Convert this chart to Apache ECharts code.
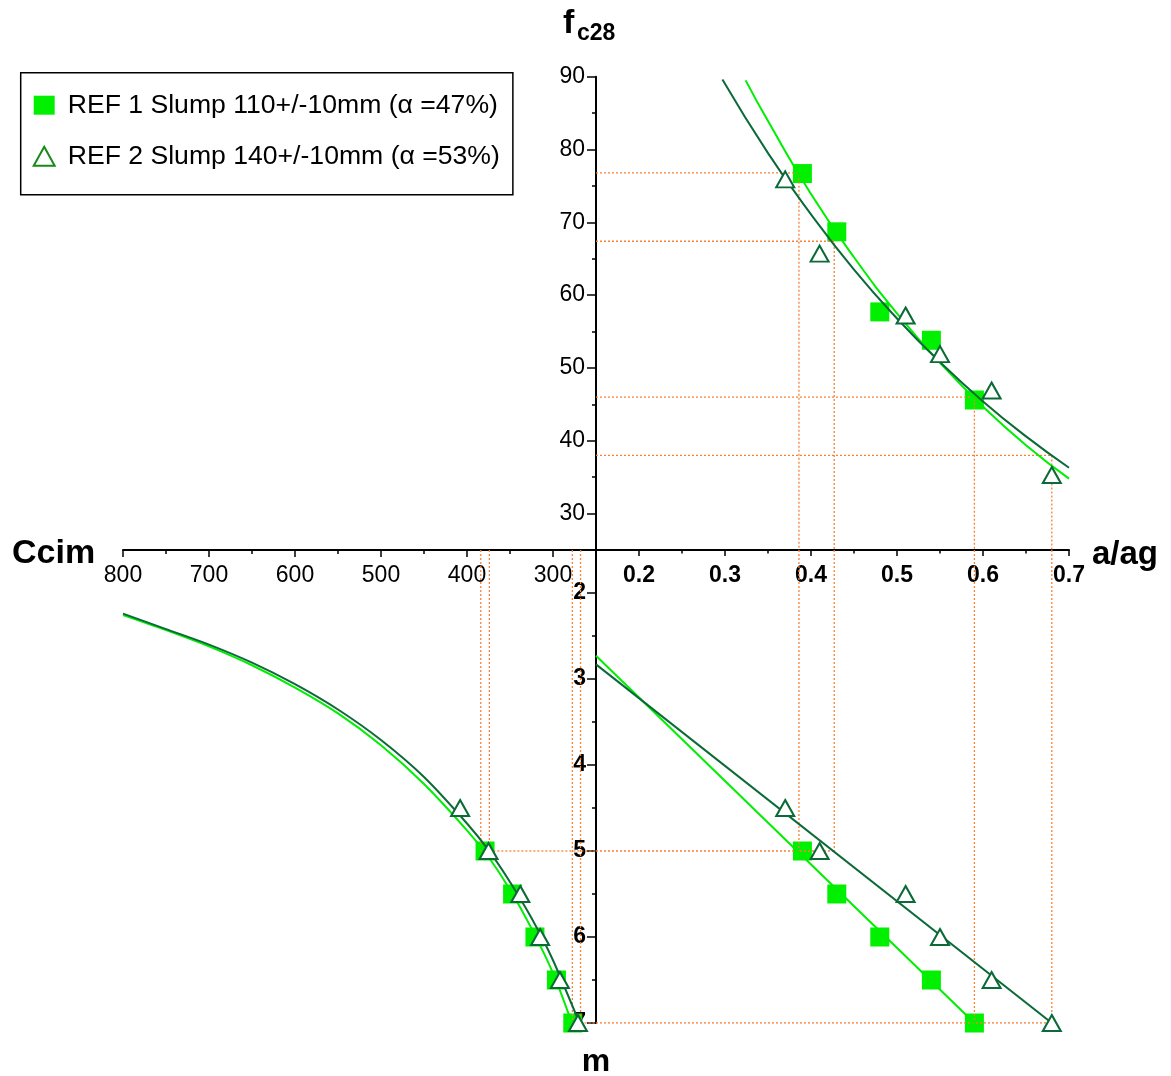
<!DOCTYPE html>
<html>
<head>
<meta charset="utf-8">
<script src="https://cdn.jsdelivr.net/npm/echarts@6/dist/echarts.min.js"></script>
<style>
html,body{margin:0;padding:0;background:#fff;}
#chart{width:1171px;height:1076px;}
</style>
</head>
<body>
<div id="chart"></div>
<script>
// ---------- DATA ----------
const ref1Name = 'REF 1 Slump 110+/-10mm (α =47%)';
const ref2Name = 'REF 2 Slump 140+/-10mm (α =53%)';

// measured points
const ref1AAg  = [0.39, 0.43, 0.48, 0.54, 0.59];
const ref1Fc   = [76.7, 68.7, 57.7, 53.8, 45.6];
const ref1M    = [5, 5.5, 6, 6.5, 7];
const ref1Ccim = [379, 347, 321, 296, 277];

const ref2AAg  = [0.37, 0.41, 0.51, 0.55, 0.61, 0.68];
const ref2Fc   = [75.9, 65.7, 57.2, 51.9, 46.9, 35.3];
const ref2M    = [4.5, 5, 5.5, 6, 6.5, 7];
const ref2Ccim = [408, 375, 338, 315, 292, 271];

// fitted curves
const fit1AAg = [0.324, 0.35, 0.40, 0.45, 0.50, 0.55, 0.60, 0.65, 0.70];
const fit1Fc  = [89.5, 83.9, 73.9, 65.2, 57.5, 50.7, 44.7, 39.4, 34.8];
const fit2AAg = [0.297, 0.35, 0.40, 0.45, 0.50, 0.55, 0.60, 0.65, 0.70];
const fit2Fc  = [89.6, 79.5, 71.1, 63.5, 56.8, 50.8, 45.4, 40.6, 36.3];

const fit1MLineAAg = [0.15, 0.59];
const fit1MLineM   = [2.73, 7];
const fit2MLineAAg = [0.15, 0.68];
const fit2MLineM   = [2.83, 7];

const fit1CcimC = [800, 750, 700, 650, 600, 550, 500, 450, 400, 375, 350, 325, 300, 278];
const fit1CcimM = [2.255, 2.43, 2.62, 2.84, 3.10, 3.40, 3.77, 4.22, 4.76, 5.07, 5.45, 5.90, 6.42, 7.0];
const fit2CcimC = [800, 750, 700, 650, 600, 550, 500, 450, 400, 375, 350, 325, 300, 270];
const fit2CcimM = [2.24, 2.42, 2.60, 2.81, 3.06, 3.355, 3.71, 4.14, 4.68, 4.99, 5.36, 5.78, 6.27, 6.98];

// reading guides (orange dotted)
const guideFc   = [76.8, 67.4, 46.0, 38.0];
const guideAAg  = [0.386, 0.427, 0.590, 0.680];
const guideM    = [5, 5, 7, 7];
const guideCcim = [384, 374, 277.5, 268];
const guideCcimM = [5, 5, 7, 7];

// axes
const aagMin = 0.15, aagMax = 0.7;
const fcMin = 25, fcMax = 90;
const mMin = 1.5, mMax = 7;
const ccimMin = 250, ccimMax = 800;
const aagTicks = [0.2, 0.3, 0.4, 0.5, 0.6, 0.7];
const aagMinor = [0.25, 0.35, 0.45, 0.55, 0.65];
const fcTicks = [30, 40, 50, 60, 70, 80, 90];
const fcMinor = [35, 45, 55, 65, 75, 85];
const mTicks = [2, 3, 4, 5, 6, 7];
const mMinor = [2.5, 3.5, 4.5, 5.5, 6.5];
const ccimTicks = [300, 400, 500, 600, 700, 800];
const ccimMinor = [350, 450, 550, 650, 750];

// ---------- STYLE ----------
const FONT = '"Liberation Sans", Arial, sans-serif';
const LIGHT = '#00ee00';
const SQUARE = '#00f000';
const DARK = '#0b6a37';
const GUIDE = '#f5823a';
const TICKFS = 23;

const zip = (a, b) => a.map((v, i) => [v, b[i]]);

function mainAxisCommon() {
  return { type: 'value', splitLine: { show: false },
    axisLine: { show: true, onZero: false, lineStyle: { color: '#000', width: 2 } } };
}
function minorAxis(gi, min, max, vals, len, extra) {
  return Object.assign({ type: 'value', gridIndex: gi, min: min, max: max,
    axisLine: { show: false }, splitLine: { show: false },
    axisLabel: { show: false },
    axisTick: { show: true, length: len, customValues: vals, lineStyle: { color: '#000', width: 1.5 } } }, extra || {});
}

const xAxes = [
  Object.assign(mainAxisCommon(), { gridIndex: 0, min: aagMin, max: aagMax, position: 'bottom',
    axisTick: { show: true, length: 6, customValues: aagTicks, lineStyle: { color: '#000', width: 1.5 } },
    axisLabel: { customValues: aagTicks, margin: 14, fontSize: TICKFS, fontWeight: 'bold', color: '#000', fontFamily: FONT } }),
  minorAxis(0, aagMin, aagMax, aagMinor, 3.5, { position: 'bottom' }),
  { type: 'value', gridIndex: 1, min: aagMin, max: aagMax, show: false },
  Object.assign(mainAxisCommon(), { gridIndex: 2, min: ccimMin, max: ccimMax, inverse: true, position: 'top',
    axisTick: { show: true, inside: true, length: 7, customValues: ccimTicks, lineStyle: { color: '#000', width: 1.5 } },
    axisLabel: { inside: true, customValues: ccimTicks, margin: 14, fontSize: TICKFS, color: '#000', fontFamily: FONT } }),
  minorAxis(2, ccimMin, ccimMax, ccimMinor, 4, { inverse: true, position: 'top', axisTick: { show: true, inside: true, length: 4, customValues: ccimMinor, lineStyle: { color: '#000', width: 1.5 } } })
];

const yAxes = [
  Object.assign(mainAxisCommon(), { gridIndex: 0, min: fcMin, max: fcMax, position: 'left',
    axisTick: { show: true, length: 9, customValues: fcTicks, lineStyle: { color: '#000', width: 1.5 } },
    axisLabel: { customValues: fcTicks, margin: 11, fontSize: TICKFS, color: '#000', fontFamily: FONT } }),
  minorAxis(0, fcMin, fcMax, fcMinor, 4, { position: 'left' }),
  Object.assign(mainAxisCommon(), { gridIndex: 1, min: mMin, max: mMax, inverse: true, position: 'left',
    axisTick: { show: true, length: 9, customValues: mTicks, lineStyle: { color: '#000', width: 1.5 } },
    axisLabel: { customValues: mTicks, margin: 10, fontSize: TICKFS, fontWeight: 'bold', color: '#000', fontFamily: FONT } }),
  minorAxis(1, mMin, mMax, mMinor, 4, { inverse: true, position: 'left' }),
  { type: 'value', gridIndex: 2, min: mMin, max: mMax, inverse: true, show: false }
];

const series = [];
function guide(xi, yi, data) {
  series.push({ type: 'line', xAxisIndex: xi, yAxisIndex: yi, data: data, symbol: 'none', silent: true,
    lineStyle: { color: GUIDE, width: 1.3, type: [2, 2] }, z: 3, animation: false });
}
function squares(xi, yi, data) {
  series.push({ name: ref1Name, type: 'scatter', xAxisIndex: xi, yAxisIndex: yi, data: data,
    symbol: 'rect', symbolSize: 19, itemStyle: { color: SQUARE, opacity: 1 }, z: 2, animation: false });
}
function triangles(xi, yi, data) {
  series.push({ name: ref2Name, type: 'scatter', xAxisIndex: xi, yAxisIndex: yi, data: data,
    symbol: 'triangle', symbolSize: [18, 16], itemStyle: { color: '#fff', opacity: 1, borderColor: DARK, borderWidth: 2 }, z: 6, animation: false });
}
function curve(xi, yi, data, color, z, smooth) {
  series.push({ type: 'line', xAxisIndex: xi, yAxisIndex: yi, data: data, symbol: 'none', silent: true,
    smooth: smooth, lineStyle: { color: color, width: 2 }, z: z, animation: false });
}

// markers (squares below)
squares(0, 0, zip(ref1AAg, ref1Fc));
squares(2, 2, zip(ref1AAg, ref1M));
squares(3, 4, zip(ref1Ccim, ref1M));

// guides
guideFc.forEach((fc, i) => {
  guide(0, 0, [[aagMin, fc], [guideAAg[i], fc], [guideAAg[i], fcMin]]);
  guide(2, 2, [[guideAAg[i], mMin], [guideAAg[i], guideM[i]]]);
});
[...new Set(guideM)].forEach(m => {
  const maxA = Math.max(...guideAAg.filter((a, i) => guideM[i] === m));
  guide(2, 2, [[aagMin, m], [maxA, m]]);
});
guideCcim.forEach((c, i) => {
  guide(3, 4, [[c, mMin], [c, guideCcimM[i]]]);
});
[...new Set(guideCcimM)].forEach(m => {
  const minC = Math.min(...guideCcim.filter((c, i) => guideCcimM[i] === m));
  guide(3, 4, [[minC, m], [ccimMin, m]]);
});

// curves
curve(0, 0, zip(fit1AAg, fit1Fc), LIGHT, 4, true);
curve(0, 0, zip(fit2AAg, fit2Fc), DARK, 5, true);
curve(2, 2, zip(fit1MLineAAg, fit1MLineM), LIGHT, 4, false);
curve(2, 2, zip(fit2MLineAAg, fit2MLineM), DARK, 5, false);
curve(3, 4, zip(fit1CcimC, fit1CcimM), LIGHT, 4, 0.3);
curve(3, 4, zip(fit2CcimC, fit2CcimM), DARK, 5, 0.3);

// triangles on top
triangles(0, 0, zip(ref2AAg, ref2Fc));
triangles(2, 2, zip(ref2AAg, ref2M));
triangles(3, 4, zip(ref2Ccim, ref2M));

const option = {
  backgroundColor: '#fff',
  animation: false,
  textStyle: { fontFamily: FONT },
  grid: [
    { left: 596, top: 76.7, width: 473, height: 473.3 },
    { left: 596, top: 550, width: 473, height: 473 },
    { left: 123, top: 550, width: 473, height: 473 }
  ],
  xAxis: xAxes,
  yAxis: yAxes,
  legend: {
    left: 20.7, top: 72.7, orient: 'vertical', selectedMode: false,
    data: [
      { name: ref1Name, icon: 'rect' },
      { name: ref2Name, icon: 'triangle', itemStyle: { color: '#fff', borderColor: '#178a17', borderWidth: 2 } }
    ],
    itemWidth: 21, itemHeight: 19, itemGap: 24,
    padding: [19, 13, 25, 12],
    borderColor: '#000', borderWidth: 1.5, backgroundColor: '#fff',
    textStyle: { fontSize: 26.6, color: '#000', fontFamily: FONT, padding: [0, 0, 0, 8] }
  },
  graphic: [
    { type: 'text', x: 563, y: 23.5, style: { text: 'f', font: 'bold 34px ' + FONT, fill: '#000', align: 'left', verticalAlign: 'middle' } },
    { type: 'text', x: 577, y: 34, style: { text: 'c28', font: 'bold 23px ' + FONT, fill: '#000', align: 'left', verticalAlign: 'middle' } },
    { type: 'text', x: 12, y: 553.5, style: { text: 'Ccim', font: 'bold 34px ' + FONT, fill: '#000', align: 'left', verticalAlign: 'middle' } },
    { type: 'text', x: 1092, y: 554.5, style: { text: 'a/ag', font: 'bold 33px ' + FONT, fill: '#000', align: 'left', verticalAlign: 'middle' } },
    { type: 'text', x: 596, y: 1062, style: { text: 'm', font: 'bold 32px ' + FONT, fill: '#000', align: 'center', verticalAlign: 'middle' } }
  ],
  series: series
};

const chart = echarts.init(document.getElementById('chart'), null, { renderer: 'canvas' });
chart.setOption(option);
</script>
</body>
</html>
